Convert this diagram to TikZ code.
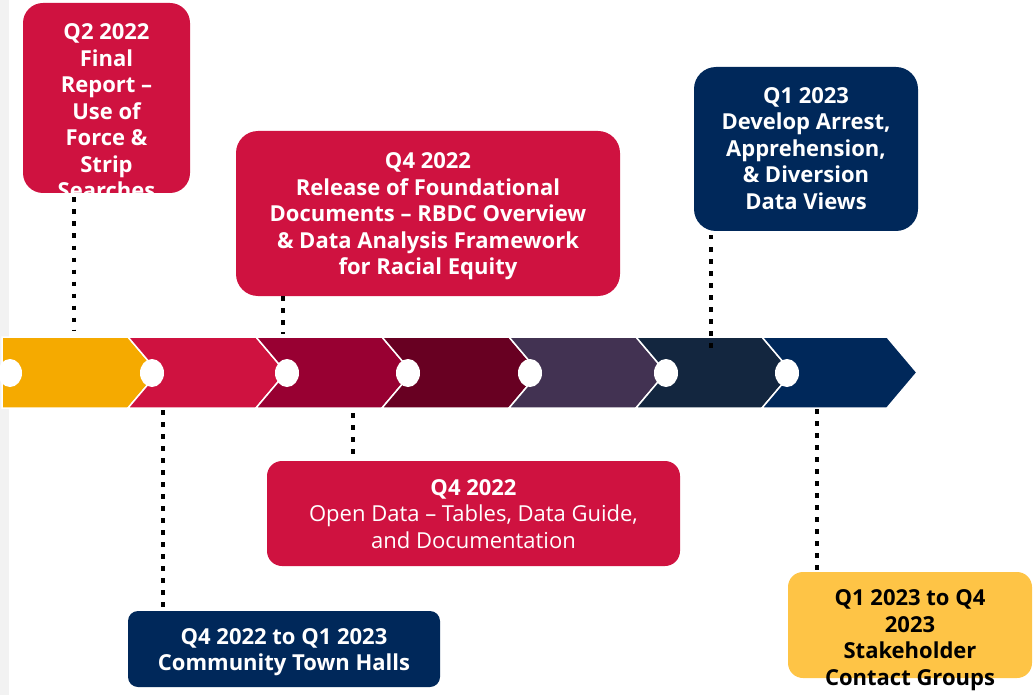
\documentclass[tikz,border=0pt]{standalone}
\usepackage{fontspec}
\setmainfont{Open Sans}
\definecolor{crim}{RGB}{207,18,64}
\definecolor{navy}{RGB}{0,40,90}
\definecolor{boxyel}{RGB}{254,196,70}
\definecolor{segA}{RGB}{245,170,0}
\definecolor{segB}{RGB}{207,18,64}
\definecolor{segC}{RGB}{152,0,50}
\definecolor{segD}{RGB}{104,0,34}
\definecolor{segE}{RGB}{66,50,82}
\definecolor{segF}{RGB}{19,38,63}
\definecolor{segG}{RGB}{0,40,90}
\definecolor{strip}{RGB}{242,242,242}
\begin{document}
\begin{tikzpicture}[x=1pt,y=-1pt,
  tbox/.style={draw=none,inner sep=0pt,outer sep=0pt},
  ttext/.style={anchor=north,inner sep=0pt,align=center,text=white,
    font=\fontsize{22}{26.5}\selectfont\bfseries},
  seg/.style={draw=white,line width=1.5pt,line join=miter},
  dotline/.style={draw=black,line width=4.5pt,dash pattern=on 4.5pt off 7.5pt}]
\useasboundingbox (0,0) rectangle (1036,695);
\fill[strip] (0,0) rectangle (8.5,695);
% band
\filldraw[seg,fill=segA] (2,337) -- (128,337) -- (158,372.5) -- (128,408) -- (2,408) -- cycle;
\filldraw[seg,fill=segB] (128,337) -- (256,337) -- (286,372.5) -- (256,408) -- (128,408) -- (158,372.5) -- cycle;
\filldraw[seg,fill=segC] (256,337) -- (382,337) -- (412,372.5) -- (382,408) -- (256,408) -- (286,372.5) -- cycle;
\filldraw[seg,fill=segD] (382,337) -- (509,337) -- (539,372.5) -- (509,408) -- (382,408) -- (412,372.5) -- cycle;
\filldraw[seg,fill=segE] (509,337) -- (636,337) -- (666,372.5) -- (636,408) -- (509,408) -- (539,372.5) -- cycle;
\filldraw[seg,fill=segF] (636,337) -- (762,337) -- (792,372.5) -- (762,408) -- (636,408) -- (666,372.5) -- cycle;
\filldraw[seg,fill=segG] (762,337) -- (887,337) -- (917,372.5) -- (887,408) -- (762,408) -- (792,372.5) -- cycle;
\foreach \cx in {10,152,287,408,530,666,787}
  \fill[white] (\cx,373) ellipse [x radius=12, y radius=14];
% boxes
\node[tbox,fill=crim,minimum width=167pt,minimum height=190pt,rounded corners=20pt] (q2) at (106.5,98) {};
\node[tbox,fill=crim,minimum width=384pt,minimum height=165pt,rounded corners=22pt] (mt) at (428,213.5) {};
\node[tbox,fill=navy,minimum width=224pt,minimum height=164pt,rounded corners=22pt] (q1) at (806,149) {};
\node[tbox,fill=crim,minimum width=413pt,minimum height=105pt,rounded corners=15pt] (od) at (473.5,513.5) {};
\node[tbox,fill=navy,minimum width=312pt,minimum height=76pt,rounded corners=10pt] (th) at (284,649) {};
\node[tbox,fill=boxyel,minimum width=244pt,minimum height=106pt,rounded corners=15pt] (yl) at (910,625) {};
% texts
\begin{scope}
  \clip[rounded corners=20pt] (q2.south west) rectangle (q2.north east);
  \node[ttext] (q2t) at (106.5,23.5) {Q2 2022\\Final\\Report –\\Use of\\Force \&\\Strip\\Searches};
\end{scope}
\node[ttext] (mtt) at (428,152.5) {Q4 2022\\Release of Foundational\\Documents – RBDC Overview\\\& Data Analysis Framework\\for Racial Equity};
\node[ttext] (q1t) at (806,87) {Q1 2023\\Develop Arrest,\\Apprehension,\\\& Diversion\\Data Views};
\node[ttext,font=\fontsize{22}{26.5}\selectfont] (odt) at (473.5,479) {\textbf{Q4 2022}\\Open Data – Tables, Data Guide,\\and Documentation};
\node[ttext] (tht) at (284,628) {Q4 2022 to Q1 2023\\Community Town Halls};
\node[ttext,text=black] (ylt) at (910,589.5) {Q1 2023 to Q4\\2023\\Stakeholder\\Contact Groups};
% connectors
\coordinate (b1) at (74,331);
\coordinate (b2) at (163,410);
\coordinate (b3) at (283,334);
\coordinate (b4) at (353,413);
\coordinate (b5) at (711,354);
\coordinate (b6) at (817,409);
\draw[dotline,shorten <=4.5pt] (b1 |- q2.south) -- (b1);
\draw[dotline] (b2) -- (b2 |- th.north);
\draw[dotline] (b3 |- mt.south) -- (b3);
\draw[dotline,shorten >=5pt] (b4) -- (b4 |- od.north);
\draw[dotline,shorten <=4pt] (b5 |- q1.south) -- (b5);
\draw[dotline] (b6) -- (b6 |- yl.north);
\end{tikzpicture}
\end{document}
